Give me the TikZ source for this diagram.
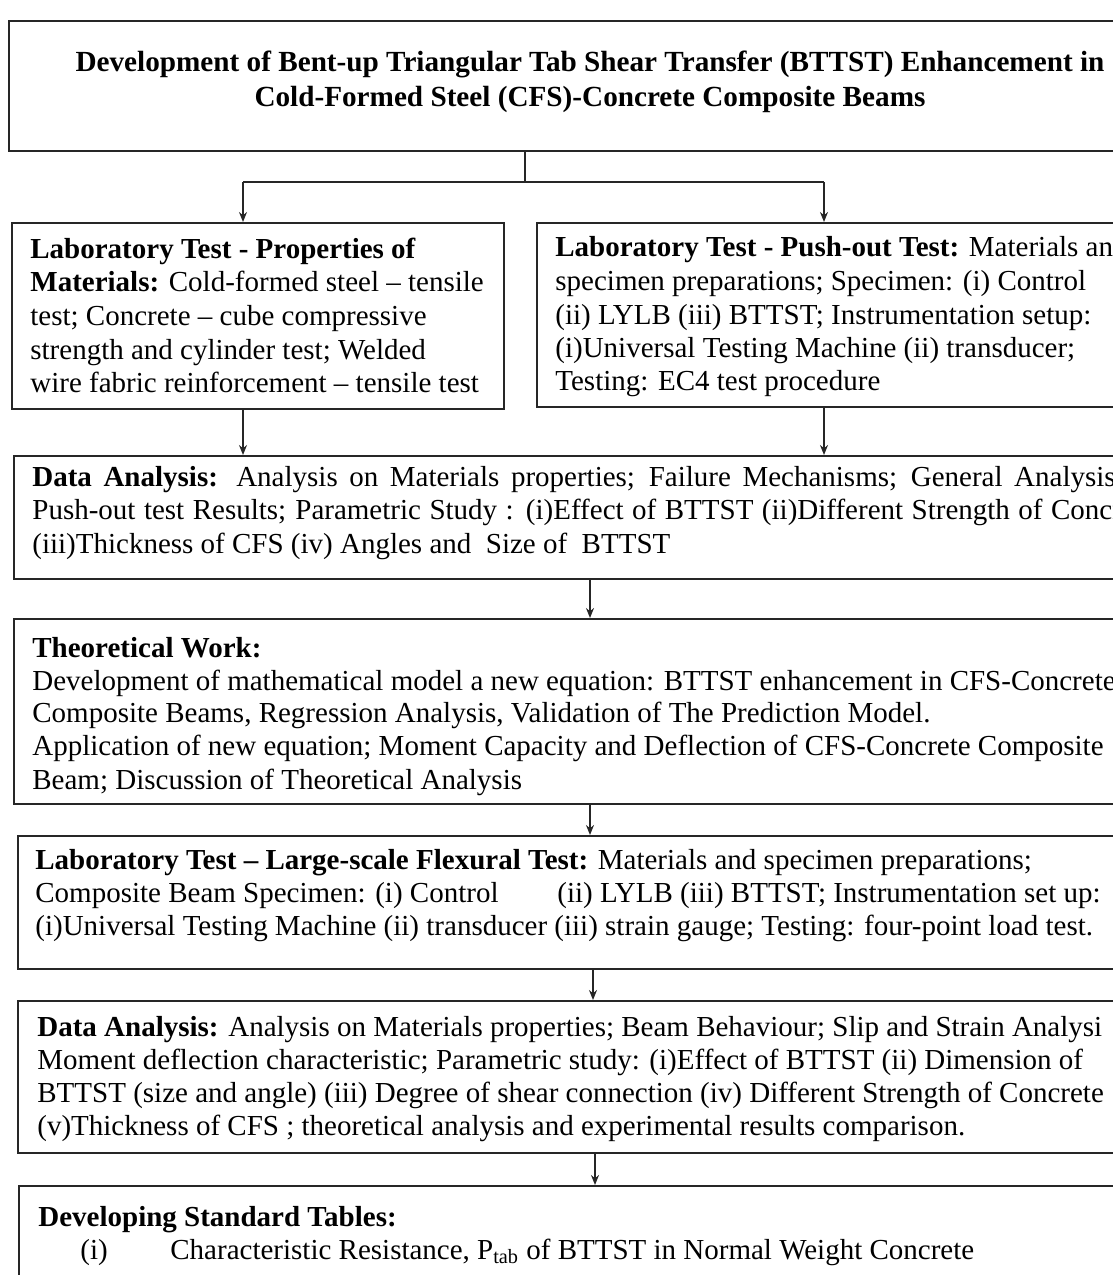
\documentclass[tikz,border=0pt]{standalone}
\usepackage{fontspec}
\setmainfont{Liberation Serif}
\usetikzlibrary{arrows.meta,calc}
\tikzset{
  box/.style={draw=black!85, line width=1.1pt, inner sep=0pt, anchor=north west},
  txt/.style={anchor=base west, inner sep=0pt, font=\fontsize{14.5}{16}\selectfont},
  ttl/.style={anchor=base, inner sep=0pt, font=\fontsize{14.6}{16}\selectfont\bfseries},
  link/.style={draw=black!85, line width=0.9pt},
  arr/.style={link, -{Stealth[length=5pt,width=4pt]}}
}
\begin{document}
\begin{tikzpicture}[x=0.5pt,y=-0.5pt]
\useasboundingbox (0,0) rectangle (1113,1275);
\clip (0,0) rectangle (1113,1275);
% boxes
\node[box, minimum width=566pt, minimum height=65pt] (top) at (8,20) {};
\node[box, minimum width=246pt, minimum height=93pt] (left) at (11,222) {};
\node[box, minimum width=302pt, minimum height=92pt] (right) at (536,222) {};
\node[box, minimum width=563.5pt, minimum height=61.5pt] (da1) at (13,455) {};
\node[box, minimum width=563.5pt, minimum height=92.5pt] (tw) at (13,618) {};
\node[box, minimum width=561.5pt, minimum height=66.5pt] (ls) at (17,835) {};
\node[box, minimum width=561.5pt, minimum height=76pt] (da2) at (17,1000) {};
\node[box, minimum width=561pt, minimum height=60pt] (dst) at (18,1185) {};
% connectors
\coordinate (j) at (525,182);
\coordinate (jl) at (243,182);
\coordinate (jr) at (824,182);
\coordinate (c1) at (590,0);
\coordinate (c2) at (593,0);
\coordinate (c3) at (595,0);
\draw[link] (top.south -| j) -- (j);
\draw[link] (jl) -- (jr);
\draw[arr] (jl) -- (jl |- left.north);
\draw[arr] (jr) -- (jr |- right.north);
\draw[arr] (left.south -| jl) -- (jl |- da1.north);
\draw[arr] (right.south -| jr) -- (jr |- da1.north);
\draw[arr] (da1.south -| c1) -- (c1 |- tw.north);
\draw[arr] (tw.south -| c1) -- (c1 |- ls.north);
\draw[arr] (ls.south -| c2) -- (c2 |- da2.north);
\draw[arr] (da2.south -| c3) -- (c3 |- dst.north);
% title
\node[ttl] (t1) at (590,71) {Development of Bent-up Triangular Tab Shear Transfer (BTTST) Enhancement in};
\node[ttl] (t2) at (590,106) {Cold-Formed Steel (CFS)-Concrete Composite Beams};
% left box
\node[txt] (l1) at (30,258) {\textbf{Laboratory Test - Properties of}};
\node[txt] (l2) at (30,291) {\textbf{Materials:} Cold-formed steel – tensile};
\node[txt] (l3) at (30,325) {test; Concrete – cube compressive};
\node[txt] (l4) at (30,359) {strength and cylinder test; Welded};
\node[txt] (l5) at (30,392) {wire fabric reinforcement – tensile test};
% right box
\node[txt] (r1) at (555,256) {\textbf{Laboratory Test - Push-out Test:} Materials and};
\node[txt] (r2) at (555,290) {specimen preparations; Specimen: (i) Control};
\node[txt] (r3) at (555,324) {(ii) LYLB (iii) BTTST; Instrumentation setup:};
\node[txt] (r4) at (555,357) {(i)Universal Testing Machine (ii) transducer;};
\node[txt] (r5) at (555,390) {Testing: EC4 test procedure};
% data analysis 1
\node[txt] (a1) at (32,486) {\makebox[536pt][s]{\textbf{Data Analysis:} Analysis on Materials properties; Failure Mechanisms; General Analysi}s};
\node[txt] (a2) at (32,519) {\makebox[533.5pt][s]{Push-out test Results; Parametric Study : (i)Effect of BTTST (ii)Different Strength of Con}crete};
\node[txt] (a3) at (32,553) {(iii)Thickness of CFS (iv) Angles and\ \ Size of\ \ BTTST};
% theoretical work
\node[txt] (w1) at (32,657) {\textbf{Theoretical Work:}};
\node[txt] (w2) at (32,690) {Development of mathematical model a new equation: BTTST enhancement in CFS-Concrete};
\node[txt] (w3) at (32,722) {Composite Beams, Regression Analysis, Validation of The Prediction Model.};
\node[txt] (w4) at (32,755) {Application of new equation; Moment Capacity and Deflection of CFS-Concrete Composite};
\node[txt] (w5) at (32,789) {Beam; Discussion of Theoretical Analysis};
% large-scale
\node[txt] (s1) at (35,869) {\textbf{Laboratory Test – Large-scale Flexural Test:} Materials and specimen preparations;};
\node[txt] (s2) at (35,902) {\makebox[261pt][l]{Composite Beam Specimen: (i) Control}(ii) LYLB (iii) BTTST; Instrumentation set up:};
\node[txt] (s3) at (35,935) {(i)Universal Testing Machine (ii) transducer (iii) strain gauge; Testing: four-point load test.};
% data analysis 2
\node[txt] (b1) at (37,1036) {\textbf{Data Analysis:} Analysis on Materials properties; Beam Behaviour; Slip and Strain Analysi};
\node[txt] (b2) at (37,1069) {Moment deflection characteristic; Parametric study: (i)Effect of BTTST (ii) Dimension of};
\node[txt] (b3) at (37,1102) {BTTST (size and angle) (iii) Degree of shear connection (iv) Different Strength of Concrete};
\node[txt] (b4) at (37,1135) {(v)Thickness of CFS ; theoretical analysis and experimental results comparison.};
% standard tables
\node[txt] (d1) at (38,1226) {\textbf{Developing Standard Tables:}};
\node[txt] (d2) at (80,1259) {(i)};
\node[txt] (d3) at (170,1259) {Characteristic Resistance, P\textsubscript{tab} of BTTST in Normal Weight Concrete};
\end{tikzpicture}
\end{document}
